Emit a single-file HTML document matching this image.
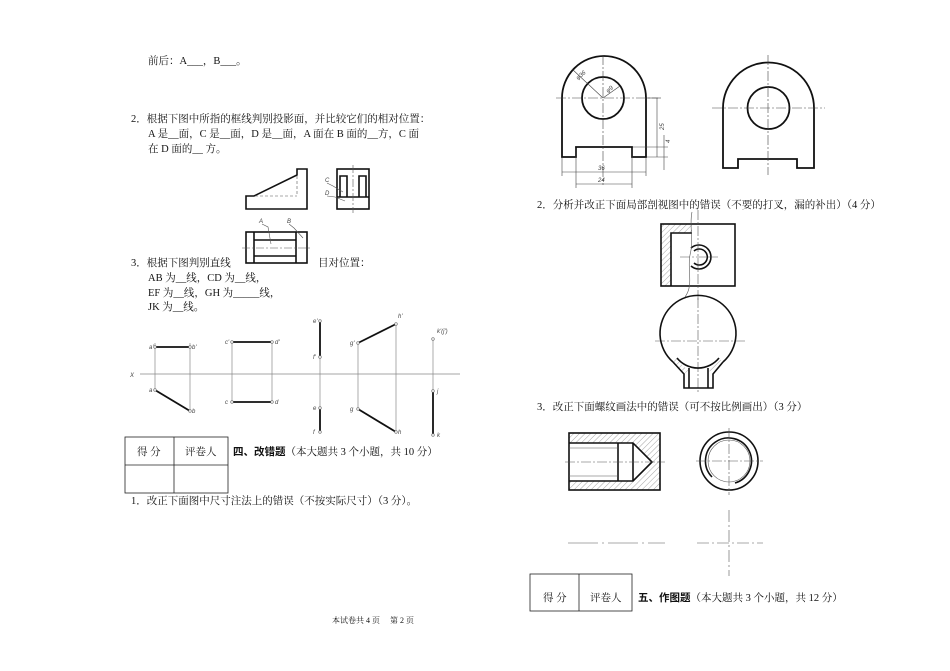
<!DOCTYPE html>
<html><head><meta charset="utf-8"><style>
html,body{margin:0;padding:0;background:#fff}
svg{display:block}
text{font-family:"Liberation Serif","Noto Serif CJK SC",serif;font-size:10.5px;fill:#111}
.s{font-family:"Liberation Sans",sans-serif;font-size:6px;font-style:italic;fill:#444}
</style></head><body>
<svg width="950" height="671" viewBox="0 0 950 671" xmlns="http://www.w3.org/2000/svg">
<defs>
<pattern id="h" width="4" height="4" patternUnits="userSpaceOnUse" patternTransform="rotate(45)"><line x1="0" y1="0" x2="0" y2="4" stroke="#666" stroke-width="0.6"/></pattern>
</defs>
<text x="148" y="64">前后：A___，B___。</text>
<text x="131" y="122">2．根据下图中所指的框线判别投影面，并比较它们的相对位置：</text>
<text x="148" y="137">A 是__面，C 是__面，D 是__面，A 面在 B 面的__方，C 面</text>
<text x="148" y="152">在 D 面的__ 方。</text>
<text x="131" y="266">3．根据下图判别直线</text>
<text x="318" y="266">目对位置：</text>
<text x="148" y="281">AB 为__线，CD 为__线，</text>
<text x="148" y="296">EF 为__线，GH 为_____线，</text>
<text x="148" y="310">JK 为__线。</text>

<!-- Q2 figures -->
<g fill="none" stroke="#111" stroke-width="1.6">
<polygon points="246,196 254,196 297,175 297,169 307,169 307,209 246,209"/>
<rect x="337" y="169" width="32" height="40"/>
<polyline points="340,197 340,176 347,176 347,197"/>
<polyline points="359,197 359,176 366,176 366,197"/>
<line x1="337" y1="197" x2="369" y2="197"/>
<rect x="246" y="232" width="61" height="31" fill="#fff"/>
<line x1="254" y1="232" x2="254" y2="263"/>
<line x1="296" y1="232" x2="296" y2="263"/>
<line x1="254" y1="240" x2="296" y2="240"/>
<line x1="254" y1="256" x2="296" y2="256"/>
</g>
<g fill="none" stroke="#555" stroke-width="0.6">
<line x1="255" y1="196" x2="297" y2="196" stroke-dasharray="3,2"/>
<line x1="297" y1="176" x2="297" y2="196" stroke-dasharray="3,2"/>
<line x1="353" y1="165" x2="353" y2="213" stroke-dasharray="8,2,2,2"/>
<line x1="242" y1="248" x2="312" y2="248" stroke-dasharray="8,2,2,2"/>
<path d="M327,183 L333,186 L343,192"/>
<path d="M327,196 L335,197 L345,201"/>
<path d="M262,224 L268,227 L271,244"/>
<path d="M289,224 L294,228 L303,238"/>
</g>
<text class="s" x="325" y="182">C</text>
<text class="s" x="325" y="195">D</text>
<text class="s" x="259" y="223">A</text>
<text class="s" x="287" y="223">B</text>

<!-- projections -->
<g fill="none" stroke="#888" stroke-width="0.7">
<line x1="140" y1="374" x2="460" y2="374"/>
<line x1="155" y1="343" x2="155" y2="390"/>
<line x1="190" y1="343" x2="190" y2="411"/>
<line x1="232" y1="342" x2="232" y2="402"/>
<line x1="272" y1="342" x2="272" y2="402"/>
<line x1="320" y1="321" x2="320" y2="432"/>
<line x1="358" y1="343" x2="358" y2="409"/>
<line x1="396" y1="324" x2="396" y2="432"/>
<line x1="433" y1="339" x2="433" y2="435"/>
</g>
<g fill="none" stroke="#111" stroke-width="1.8">
<line x1="155" y1="347" x2="190" y2="347"/>
<line x1="155" y1="390" x2="190" y2="411"/>
<line x1="232" y1="342" x2="272" y2="342"/>
<line x1="232" y1="402" x2="272" y2="402"/>
<line x1="320" y1="321" x2="320" y2="357"/>
<line x1="320" y1="408" x2="320" y2="432"/>
<line x1="358" y1="343" x2="396" y2="324"/>
<line x1="358" y1="409" x2="396" y2="432"/>
<line x1="433" y1="391" x2="433" y2="435"/>
</g>
<g fill="#fff" stroke="#666" stroke-width="0.6">
<circle cx="155" cy="347" r="1.3"/><circle cx="190" cy="347" r="1.3"/>
<circle cx="155" cy="390" r="1.3"/><circle cx="190" cy="411" r="1.3"/>
<circle cx="232" cy="342" r="1.3"/><circle cx="272" cy="342" r="1.3"/>
<circle cx="232" cy="402" r="1.3"/><circle cx="272" cy="402" r="1.3"/>
<circle cx="320" cy="321" r="1.3"/><circle cx="320" cy="357" r="1.3"/>
<circle cx="320" cy="408" r="1.3"/><circle cx="320" cy="432" r="1.3"/>
<circle cx="358" cy="343" r="1.3"/><circle cx="396" cy="324" r="1.3"/>
<circle cx="358" cy="409" r="1.3"/><circle cx="396" cy="432" r="1.3"/>
<circle cx="433" cy="339" r="1.3"/><circle cx="433" cy="391" r="1.3"/><circle cx="433" cy="435" r="1.3"/>
</g>
<text class="s" x="130" y="377">X</text>
<text class="s" x="149" y="349">a'</text><text class="s" x="192" y="349">b'</text>
<text class="s" x="149" y="392">a</text><text class="s" x="192" y="413">b</text>
<text class="s" x="225" y="344">c'</text><text class="s" x="275" y="344">d'</text>
<text class="s" x="225" y="404">c</text><text class="s" x="275" y="404">d</text>
<text class="s" x="313" y="323">e'</text><text class="s" x="313" y="359">f'</text>
<text class="s" x="313" y="410">e</text><text class="s" x="313" y="434">f</text>
<text class="s" x="350" y="345">g'</text><text class="s" x="398" y="318">h'</text>
<text class="s" x="350" y="411">g</text><text class="s" x="398" y="434">h</text>
<text class="s" x="437" y="333">k'(j')</text><text class="s" x="437" y="393">j</text><text class="s" x="437" y="437">k</text>

<!-- left table -->
<g fill="none" stroke="#222" stroke-width="0.8">
<rect x="125" y="437" width="103" height="56"/>
<line x1="125" y1="465" x2="228" y2="465"/>
<line x1="174" y1="437" x2="174" y2="493"/>
</g>
<text x="137" y="455">得 分</text>
<text x="185" y="455">评卷人</text>
<text x="233" y="455"><tspan font-weight="bold" font-family="'Liberation Sans','Noto Sans CJK SC',sans-serif">四、改错题</tspan>（本大题共 3 个小题，共 10 分）</text>
<text x="131" y="504">1．改正下面图中尺寸注法上的错误（不按实际尺寸）（3 分）。</text>
<text x="332" y="623" style="font-size:8px">本试卷共 4 页　 第 2 页</text>

<!-- right top drawings -->
<g fill="none" stroke="#111" stroke-width="1.8">
<path d="M562,157 L562,98 A42,42 0 0 1 646,98 L646,157 L632,157 L632,147 L576,147 L576,157 Z"/>
<circle cx="603" cy="98" r="21"/>
<path d="M723,168 L723,108 A45.5,45.5 0 0 1 814,108 L814,168 L797,168 L797,159 L738,159 L738,168 Z"/>
<circle cx="768.5" cy="108" r="21"/>
</g>
<g fill="none" stroke="#444" stroke-width="0.6">
<line x1="556" y1="98" x2="658" y2="98" stroke-dasharray="10,2,2,2"/>
<line x1="603" y1="55" x2="603" y2="185" stroke-dasharray="10,2,2,2"/>
<line x1="712" y1="108" x2="825" y2="108" stroke-dasharray="10,2,2,2"/>
<line x1="768" y1="55" x2="768" y2="175" stroke-dasharray="10,2,2,2"/>
<line x1="572" y1="69" x2="603" y2="98"/>
<line x1="603" y1="98" x2="620" y2="86"/>
<line x1="562" y1="158" x2="562" y2="176"/><line x1="646" y1="158" x2="646" y2="176"/>
<line x1="576" y1="148" x2="576" y2="188"/><line x1="632" y1="148" x2="632" y2="188"/>
<line x1="562" y1="172" x2="646" y2="172"/>
<line x1="576" y1="184" x2="632" y2="184"/>
<line x1="647" y1="98" x2="661" y2="98"/><line x1="647" y1="157" x2="668" y2="157"/>
<line x1="633" y1="147" x2="668" y2="147"/>
<line x1="657" y1="98" x2="657" y2="157"/>
<line x1="664" y1="135" x2="664" y2="170"/>
</g>
<text class="s" x="578" y="80" transform="rotate(-40 578 80)">φ36</text>
<text class="s" x="608" y="93" transform="rotate(-40 608 93)">φ9</text>
<text class="s" x="598" y="170">36</text>
<text class="s" x="598" y="182">24</text>
<text class="s" x="664" y="130" transform="rotate(-90 664 130)">25</text>
<text class="s" x="670" y="143" transform="rotate(-90 670 143)">4</text>

<text x="537" y="208">2．分析并改正下面局部剖视图中的错误（不要的打叉，漏的补出）（4 分）</text>

<!-- section view -->
<path d="M661,224 L692,224 L692,233 L671,233 L671,286 L661,286 Z" fill="url(#h)"/>
<g fill="none" stroke="#111" stroke-width="1.6">
<rect x="661" y="224" width="74" height="62"/>
<polyline points="671,286 671,233 692,233"/>
<path d="M691,248 A12,12 0 1 1 691,266"/>
<path d="M694,251 A8,8 0 1 1 694,263"/>
</g>
<g fill="none" stroke="#555" stroke-width="0.6">
<path d="M692,212 C689,225 694,240 690,255 C687,270 694,285 685,297"/>
<line x1="698" y1="210" x2="698" y2="300" stroke-dasharray="10,2,2,2"/>
<line x1="680" y1="257" x2="718" y2="257" stroke-dasharray="10,2,2,2"/>
<line x1="698" y1="298" x2="698" y2="392" stroke-dasharray="10,2,2,2"/>
<line x1="655" y1="341" x2="745" y2="341" stroke-dasharray="10,2,2,2"/>
</g>
<path d="M673,362 L684,374 L689,370 A27,27 0 0 1 677,358 Z" fill="url(#h)"/>
<path d="M723,362 L713,374 L708,370 A27,27 0 0 0 719,358 Z" fill="url(#h)"/>
<g fill="none" stroke="#111" stroke-width="1.6">
<path d="M673,362 A38,38 0 1 1 723,362"/>
<path d="M673,362 L684,374 L684,388 L713,388 L713,374 L723,362"/>
<path d="M677,358 A27,27 0 0 0 719,358"/>
<line x1="689" y1="368" x2="689" y2="388"/>
<line x1="708" y1="368" x2="708" y2="388"/>
</g>

<text x="537" y="410">3．改正下面螺纹画法中的错误（可不按比例画出）（3 分）</text>

<!-- thread -->
<rect x="569" y="433" width="91" height="57" fill="url(#h)"/>
<path d="M569,443 L633,443 L652,462 L633,481 L569,481 Z" fill="#fff"/>
<g fill="none" stroke="#111" stroke-width="1.6">
<rect x="569" y="433" width="91" height="57"/>
<path d="M569,443 L633,443 L652,462 L633,481 L569,481"/>
<line x1="618" y1="443" x2="618" y2="481"/>
<line x1="633" y1="443" x2="633" y2="481"/>
<circle cx="729" cy="461" r="29"/>
<path d="M712,477 A23,23 0 1 1 735,483"/>
</g>
<g fill="none" stroke="#555" stroke-width="0.6">
<circle cx="729" cy="461" r="21"/>
<line x1="569" y1="448" x2="618" y2="448"/>
<line x1="569" y1="476" x2="618" y2="476"/>
<line x1="565" y1="462" x2="665" y2="462" stroke-dasharray="10,2,2,2"/>
<line x1="696" y1="461" x2="763" y2="461" stroke-dasharray="10,2,2,2"/>
<line x1="729" y1="428" x2="729" y2="495" stroke-dasharray="10,2,2,2"/>
<line x1="568" y1="543" x2="665" y2="543" stroke-dasharray="30,4,2,4"/>
<line x1="697" y1="543" x2="763" y2="543" stroke-dasharray="12,3,2,3"/>
<line x1="729" y1="510" x2="729" y2="576" stroke-dasharray="12,3,2,3"/>
</g>

<!-- right table -->
<g fill="none" stroke="#222" stroke-width="0.8">
<rect x="530" y="574" width="102" height="37"/>
<line x1="579" y1="574" x2="579" y2="611"/>
</g>
<text x="543" y="601">得 分</text>
<text x="590" y="601">评卷人</text>
<text x="638" y="601"><tspan font-weight="bold" font-family="'Liberation Sans','Noto Sans CJK SC',sans-serif">五、作图题</tspan>（本大题共 3 个小题，共 12 分）</text>
</svg>
</body></html>
